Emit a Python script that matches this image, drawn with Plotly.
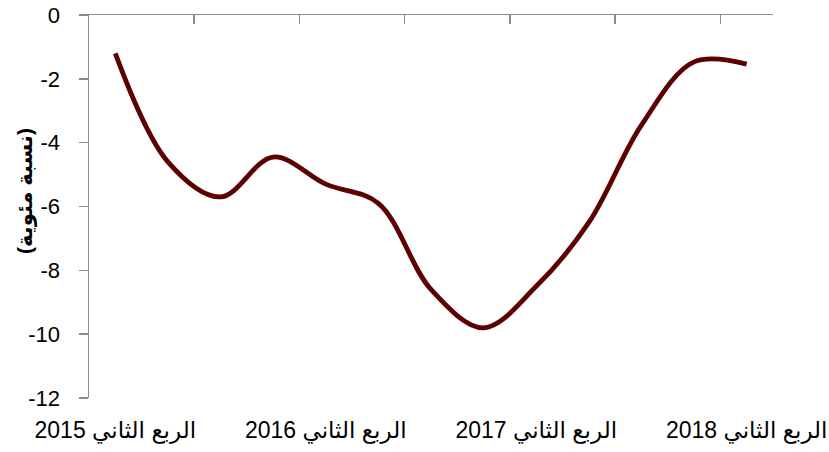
import plotly.graph_objects as go

quarters = [
    "الربع الثاني 2015", "الربع الثالث 2015", "الربع الرابع 2015",
    "الربع الأول 2016", "الربع الثاني 2016", "الربع الثالث 2016", "الربع الرابع 2016",
    "الربع الأول 2017", "الربع الثاني 2017", "الربع الثالث 2017", "الربع الرابع 2017",
    "الربع الأول 2018", "الربع الثاني 2018",
]
values = [-1.2, -4.6, -5.7, -4.45, -5.3, -5.9, -8.6, -9.8, -8.5, -6.5, -3.45, -1.47, -1.54]
y_ticks = [0, -2, -4, -6, -8, -10, -12]
y_title = "(نسبة مئوية)"

idx = list(range(len(quarters)))
label_idx = idx[::4]
label_text = [quarters[i] for i in label_idx]
boundary_ticks = [i - 0.5 for i in idx[::2]]

font_family = "Arial, Liberation Sans, DejaVu Sans, sans-serif"
axis_color = "#8c8c8c"
x_range = [-0.5, len(quarters) - 0.5]

fig = go.Figure()
# helper trace so that the top (category) axis line with its tick marks is drawn
fig.add_trace(go.Scatter(
    x=idx, y=values, mode="lines", xaxis="x2",
    line=dict(color="rgba(0,0,0,0)", width=0),
    hoverinfo="skip", showlegend=False,
))
fig.add_trace(go.Scatter(
    x=idx, y=values, mode="lines",
    line=dict(color="#5c0000", width=4.8, shape="spline", smoothing=1.0),
    hoverinfo="skip", showlegend=False,
))

fig.update_layout(
    width=829, height=452,
    margin=dict(l=89, r=56, t=15, b=54),
    paper_bgcolor="white", plot_bgcolor="white",
    font=dict(family=font_family, color="black"),
    xaxis=dict(
        range=x_range,
        tickvals=label_idx, ticktext=label_text,
        showline=False, showgrid=False, zeroline=False, ticks="",
        tickfont=dict(size=23, color="black"),
        ticklabelstandoff=16, automargin=False,
        ticklabeloverflow="allow",
    ),
    xaxis2=dict(
        overlaying="x", anchor="y", side="top",
        range=x_range,
        tickvals=boundary_ticks, showticklabels=False,
        showline=True, linecolor=axis_color, linewidth=1.5,
        ticks="inside", ticklen=9, tickcolor=axis_color, tickwidth=1.5,
        showgrid=False, zeroline=False, automargin=False,
    ),
    yaxis=dict(
        range=[-12, 0], tickvals=y_ticks, ticktext=[str(v) for v in y_ticks],
        showline=True, linecolor=axis_color, linewidth=1.5,
        ticks="outside", ticklen=9, tickcolor=axis_color, tickwidth=1.5,
        showgrid=False, zeroline=False,
        tickfont=dict(size=22, color="black"),
        ticklabelstandoff=14, automargin=False,
        ticklabeloverflow="allow",
    ),
    annotations=[dict(
        text="<b>" + y_title + "</b>", textangle=-90,
        xref="paper", yref="paper", x=-0.094, y=0.54,
        xanchor="center", yanchor="middle", showarrow=False,
        font=dict(size=21, color="black", family=font_family),
    )],
)

fig.write_html(
    "out.html",
    config={"displayModeBar": False, "staticPlot": True},
    post_script="document.body.style.margin='0';",
)
